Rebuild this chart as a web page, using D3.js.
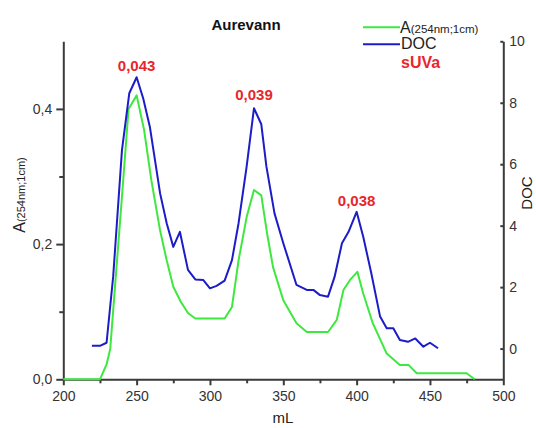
<!DOCTYPE html>
<html><head><meta charset="utf-8">
<script src="https://cdn.jsdelivr.net/npm/d3@7"></script>
<style>body{margin:0;background:#fff}svg{display:block}text{font-family:"Liberation Sans",Arial,sans-serif}</style>
</head><body><svg id="c" width="536" height="428"></svg>
<script>
const absorbance = [[200,0],[225,0],[229.5,0.022],[232,0.045],[235,0.13],[240,0.27],[244.5,0.40],[250,0.42],[255,0.37],[260,0.295],[266,0.22],[270.5,0.176],[275,0.137],[280,0.115],[285,0.098],[290,0.09],[310,0.09],[315,0.107],[319.5,0.176],[325,0.24],[330,0.28],[335,0.272],[339,0.215],[343,0.166],[350,0.117],[359,0.083],[366,0.07],[380.5,0.07],[386.5,0.088],[391,0.132],[395.5,0.147],[400.5,0.159],[404.5,0.127],[411,0.083],[420.5,0.038],[429.5,0.021],[435.5,0.021],[441,0.009],[475,0.009],[480.5,0]];
const doc = [[219.5,0.09],[225,0.09],[229.5,0.19],[234,2.34],[240,6.46],[245,8.31],[250,8.83],[254.5,8.14],[259,7.22],[266,5.05],[270.5,4.08],[275,3.31],[279.5,3.80],[285,2.56],[290,2.25],[295.5,2.23],[300,1.96],[304.5,2.04],[310,2.21],[315,2.88],[319.5,4.08],[325,5.92],[330,7.82],[335,7.3],[338.5,5.92],[344,4.40],[350,3.43],[359,2.07],[366,1.91],[370.5,1.91],[375,1.74],[380.5,1.69],[385,2.34],[390,3.43],[394.5,3.80],[400,4.45],[404.5,3.64],[410,2.45],[416,1.04],[420.5,0.66],[425,0.66],[429.5,0.28],[435,0.22],[440,0.33],[445.5,0.06],[450,0.19],[455.5,0.01]];
const suvaLabels = [[250,"0,043"],[330,"0,039"],[400,"0,038"]];
const xTicks = [200,250,300,350,400,450,500];
const xMinor = [225,275,325,375,425,475];
const yLeftTicks = [0,0.2,0.4];
const yLeftMinor = [0.1,0.3];
const yRightTicks = [0,2,4,6,8,10];

const svg = d3.select("#c");
const x = d3.scaleLinear().domain([200,500]).range([63.3,503.3]);
const yL = d3.scaleLinear().domain([0,0.5]).range([379.3,41.3]);
const yR = d3.scaleLinear().domain([-1,10]).range([379.3,41.3]);
const axisCol = "#3a3a3a";
const green = "#3ee83e", blue = "#1c1cc8", red = "#e8262b";

function styleAxis(g){ g.selectAll("path,line").attr("stroke",axisCol).attr("stroke-width",2); g.selectAll("text").attr("fill","#333").style("font-size","14px").style("font-family","Liberation Sans, Arial, sans-serif"); }

// x axis
const gx = svg.append("g").attr("transform","translate(0,379.3)");
gx.call(d3.axisBottom(x).tickValues(xTicks).tickSize(6).tickSizeOuter(0).tickFormat(d3.format("d")).tickPadding(6));
styleAxis(gx);
const gxm = svg.append("g").attr("transform","translate(0,379.3)");
gxm.call(d3.axisBottom(x).tickValues(xMinor).tickSize(4).tickSizeOuter(0).tickFormat(""));
gxm.select("path").remove(); styleAxis(gxm);

// left axis
const fmtL = d => d3.format(".1f")(d).replace(".",",");
const gl = svg.append("g").attr("transform","translate(63.3,0)");
gl.call(d3.axisLeft(yL).tickValues(yLeftTicks).tickSize(7).tickSizeOuter(0).tickFormat(fmtL).tickPadding(4));
styleAxis(gl);
const glm = svg.append("g").attr("transform","translate(63.3,0)");
glm.call(d3.axisLeft(yL).tickValues(yLeftMinor).tickSize(4).tickFormat(""));
glm.select("path").remove(); styleAxis(glm);

// right axis
const gr = svg.append("g").attr("transform","translate(503.3,0)");
gr.call(d3.axisRight(yR).tickValues(yRightTicks).tickSize(-3).tickSizeOuter(0).tickFormat(d3.format("d")).tickPadding(6));
styleAxis(gr);

// lines
svg.append("path").datum(absorbance).attr("fill","none").attr("stroke",green).attr("stroke-width",2)
  .attr("stroke-linejoin","round").attr("d",d3.line().x(d=>x(d[0])).y(d=>yL(d[1])));
svg.append("path").datum(doc).attr("fill","none").attr("stroke",blue).attr("stroke-width",2)
  .attr("stroke-linejoin","round").attr("d",d3.line().x(d=>x(d[0])).y(d=>yR(d[1])));

// sUVa labels
svg.selectAll("text.suva").data(suvaLabels).enter().append("text").attr("class","suva")
  .attr("x",d=>x(d[0])).attr("y",(d,i)=>[71,100,206][i]).attr("text-anchor","middle")
  .attr("fill",red).style("font-weight","bold").style("font-size","15px").text(d=>d[1]);

// title
svg.append("text").attr("x",246).attr("y",30).attr("text-anchor","middle").style("font-weight","bold").style("font-size","15px").attr("fill","#111").text("Aurevann");

// legend
svg.append("line").attr("x1",363).attr("x2",400).attr("y1",27.3).attr("y2",27.3).attr("stroke",green).attr("stroke-width",2);
svg.append("line").attr("x1",363).attr("x2",400).attr("y1",44.3).attr("y2",44.3).attr("stroke",blue).attr("stroke-width",2);
const la = svg.append("text").attr("x",400).attr("y",33).attr("fill","#222").style("font-size","16px");
la.append("tspan").text("A");
la.append("tspan").style("font-size","11.5px").text("(254nm;1cm)");
svg.append("text").attr("x",401).attr("y",49).attr("fill","#222").style("font-size","16px").text("DOC");
svg.append("text").attr("x",401).attr("y",68).attr("fill",red).style("font-weight","bold").style("font-size","16px").text("sUVa");

// axis titles
const yl = svg.append("text").attr("transform","translate(25,195) rotate(-90)").attr("text-anchor","middle").attr("fill","#222").style("font-size","16px");
yl.append("tspan").text("A");
yl.append("tspan").style("font-size","11px").text("(254nm;1cm)");
svg.append("text").attr("transform","translate(532,193) rotate(-90)").attr("text-anchor","middle").attr("fill","#222").style("font-size","15px").text("DOC");
svg.append("text").attr("x",283).attr("y",423).attr("text-anchor","middle").attr("fill","#222").style("font-size","15px").text("mL");
</script></body></html>
